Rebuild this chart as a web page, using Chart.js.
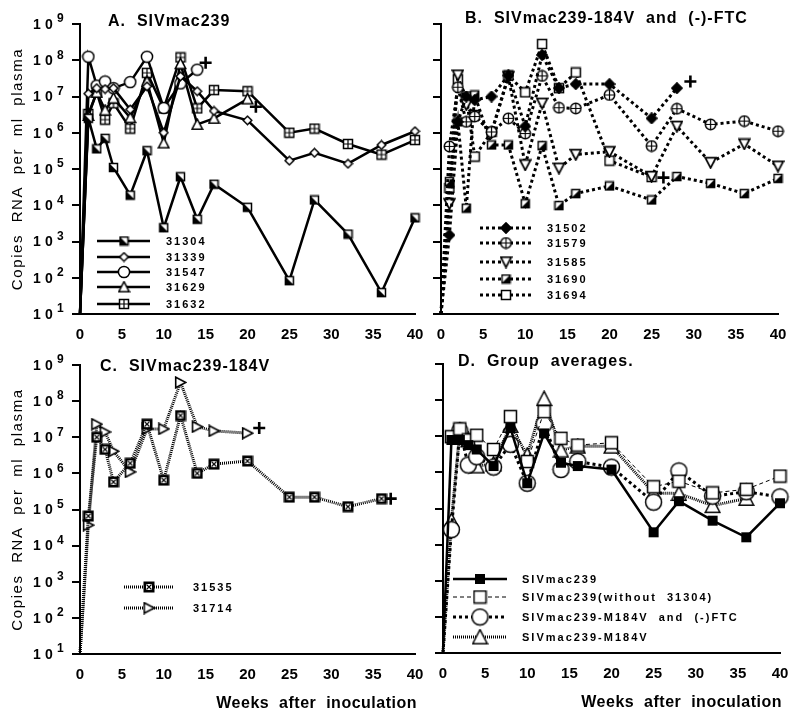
<!DOCTYPE html>
<html><head><meta charset="utf-8">
<script src="https://cdn.jsdelivr.net/npm/chart.js@4.4.0/dist/chart.umd.min.js"></script>
<style>
html,body{margin:0;padding:0;background:#fff;}
#wrap{position:relative;width:800px;height:720px;background:#fff;}
canvas{position:absolute;left:0;top:0;width:800px;height:720px;}
</style></head><body>
<div id="wrap">
<canvas id="cA" width="800" height="720"></canvas>
<canvas id="cB" width="800" height="720"></canvas>
<canvas id="cC" width="800" height="720"></canvas>
<canvas id="cD" width="800" height="720"></canvas>
</div>
<script>
// ---------------- DATA ----------------
const xTicks = [0,5,10,15,20,25,30,35,40];
const yTickExps = [1,2,3,4,5,6,7,8,9];

const weeks    = [0,1,2,3,4,6,8,10,12,14,16,20,25,28,32,36,40];
const weeksTo14 = [0,1,2,3,4,6,8,10,12,14];
const weeksTo20 = [0,1,2,3,4,6,8,10,12,14,16,20];
const weeksTo25 = [0,1,2,3,4,6,8,10,12,14,16,20,25];
const weeksTo28 = [0,1,2,3,4,6,8,10,12,14,16,20,25,28];
const weeksTo36 = [0,1,2,3,4,6,8,10,12,14,16,20,25,28,32,36];

// Panel A: SIVmac239
const labelsA = ['31304','31339','31547','31629','31632'];
const a31304 = [10,2.5e6,3.6e5,7e5,1.1e5,1.9e4,3.2e5,2.4e3,6.1e4,4.1e3,3.8e4,8.8e3,83,1.4e4,1.6e3,39,4.5e3];
const a31339 = [10,1.2e7,1.7e7,1.6e7,1.7e7,4.4e6,1.9e7,1e6,3.6e7,1.4e7,4e6,2.2e6,1.7e5,2.8e5,1.4e5,4.6e5,1.1e6];
const a31547 = [10,1.25e8,2e7,2.6e7,1.7e7,2.5e7,1.25e8,4.8e6,2.3e7,5.5e7];
const a31629 = [10,3e6,1.3e7,4.2e6,9e6,2.6e6,2.6e7,5.2e5,8e7,1.7e6,2.5e6,8.5e6];
const a31632 = [10,3.3e6,1.3e7,2.3e6,6.5e6,1.3e6,4.5e7,4.7e6,1.2e8,4.7e6,1.5e7,1.4e7,1e6,1.3e6,4.9e5,2.5e5,6.3e5];
const deathAx = [15,21];
const deathAy = [8.5e7,5.2e6];

// Panel B: SIVmac239-184V and (-)-FTC
const labelsB = ['31502','31579','31585','31690','31694'];
const b31502 = [10,1.5e3,2e6,1e7,8e6,1e7,3.8e7,1.5e6,1.4e8,1.7e7,2.2e7,2.2e7,2.5e6,1.7e7];
const b31579 = [10,4.2e5,1.8e7,2e6,2.8e6,1.05e6,2.5e6,9.5e5,3.7e7,4.9e6,4.7e6,1.1e7,4.3e5,4.6e6,1.7e6,2.1e6,1.1e6];
const b31585 = [10,1.1e4,3.9e7,5.9e6,3e6,1e6,3.5e7,1.3e5,6.5e6,1.05e5,2.5e5,3e5,6.2e4,1.5e6,1.5e5,4.9e5,1.2e5];
const b31690 = [10,4.5e4,2e6,8.3e3,1.1e7,4.6e5,4.6e5,1.1e4,4.4e5,9.8e3,2.1e4,3.4e4,1.4e4,6.2e4,4e4,2.1e4,5.5e4];
const b31694 = [10,3e4,3e7,1e7,2.2e5,1.05e6,3.8e7,1.3e7,2.8e8,1.7e7,4.6e7,1.7e5,6e4];
const deathBx = [29.6,26.4];
const deathBy = [2.6e7,5.8e4];

// Panel C: SIVmac239-184V
const labelsC = ['31535','31714'];
const c31535 = [10,6.6e4,1e7,4.6e6,5.8e5,1.9e6,2.3e7,6.5e5,4e7,1e6,1.8e6,2.2e6,2.2e5,2.2e5,1.2e5,2e5];
const c31714 = [10,3.7e4,2.3e7,1.4e7,4.1e6,1.1e6,1.7e7,1.7e7,3.3e8,1.95e7,1.5e7,1.3e7];
const deathCx = [21.4,37.1];
const deathCy = [1.8e7,2e5];

// Panel D: Group averages
const labelsD = ['SIVmac239','SIVmac239(without  31304)','SIVmac239-M184V  and  (-)FTC','SIVmac239-M184V'];
const dMac    = [10,7.9e6,7.9e6,5.7e6,4.3e6,1.5e6,1.7e7,5e5,1.2e7,1.85e6,1.5e6,1.2e6,2.2e4,1.6e5,4.6e4,1.6e4,1.4e5];
const dMacW   = [10,9.7e6,1.6e7,7.9e6,1.07e7,4.3e6,3.5e7,2e6,4.8e7,8.8e6,5.7e6,6.6e6,4e5,5.7e5,2.7e5,3.4e5,7.9e5];
const dFTC    = [10,2.6e4,1.4e7,1.6e6,2.7e6,1.4e6,6e6,5e5,2.2e7,1.2e6,2e6,1.4e6,1.5e5,1.1e6,2.2e5,2.9e5,2.1e5];
const dM184V  = [10,4.6e4,1.4e7,7.9e6,1.5e6,1.7e6,2e7,3e6,1.1e8,4.1e6,5.3e6,5.3e6,2.7e5,2.6e5,1.2e5,1.9e5];

const titleA = 'A.  SIVmac239';
const titleB = 'B.  SIVmac239-184V  and  (-)-FTC';
const titleC = 'C.  SIVmac239-184V';
const titleD = 'D.  Group  averages.';
const yTitle = 'Copies  RNA  per  ml  plasma';
const xTitle = 'Weeks  after  inoculation';

// ---------------- MARKERS ----------------
function makeMarker(size, fn){
  const c=document.createElement('canvas'); c.width=size; c.height=size;
  const g=c.getContext('2d'); g.lineWidth=1.5; g.strokeStyle='#000'; g.fillStyle='#fff';
  fn(g,size); return c;
}
const MK = {
  halfLL: makeMarker(11,(g)=>{ g.fillRect(1,1,9,9); g.beginPath(); g.moveTo(1,1); g.lineTo(1,10); g.lineTo(10,10); g.closePath(); g.fillStyle='#000'; g.fill(); g.strokeRect(1.5,1.5,8,8); }),
  halfLR: makeMarker(11,(g)=>{ g.fillRect(1,1,9,9); g.beginPath(); g.moveTo(10,1); g.lineTo(10,10); g.lineTo(1,10); g.closePath(); g.fillStyle='#000'; g.fill(); g.strokeRect(1.5,1.5,8,8); }),
  diamond: makeMarker(11,(g)=>{ g.beginPath(); g.moveTo(5.5,1.2); g.lineTo(9.8,5.5); g.lineTo(5.5,9.8); g.lineTo(1.2,5.5); g.closePath(); g.fill(); g.stroke(); }),
  diamondF: makeMarker(12,(g)=>{ g.beginPath(); g.moveTo(6,0.8); g.lineTo(11.2,6); g.lineTo(6,11.2); g.lineTo(0.8,6); g.closePath(); g.fillStyle='#000'; g.fill(); g.lineJoin='round'; g.stroke(); }),
  circle: makeMarker(14,(g)=>{ g.beginPath(); g.arc(7,7,5.6,0,Math.PI*2); g.fill(); g.stroke(); }),
  circlePlus: makeMarker(13,(g)=>{ g.beginPath(); g.arc(6.5,6.5,5.2,0,Math.PI*2); g.fill(); g.stroke(); g.beginPath(); g.moveTo(6.5,1.3); g.lineTo(6.5,11.7); g.moveTo(1.3,6.5); g.lineTo(11.7,6.5); g.lineWidth=1.2; g.stroke(); }),
  tri: makeMarker(13,(g)=>{ g.beginPath(); g.moveTo(6.5,1.2); g.lineTo(11.8,11.3); g.lineTo(1.2,11.3); g.closePath(); g.fill(); g.stroke(); }),
  triDown: makeMarker(13,(g)=>{ g.beginPath(); g.moveTo(1.2,1.7); g.lineTo(11.8,1.7); g.lineTo(6.5,11.8); g.closePath(); g.fill(); g.lineWidth=1.8; g.stroke(); }),
  triRight: makeMarker(13,(g)=>{ g.beginPath(); g.moveTo(1.7,1.2); g.lineTo(11.8,6.5); g.lineTo(1.7,11.8); g.closePath(); g.fill(); g.lineWidth=1.6; g.stroke(); }),
  sqPlus: makeMarker(12,(g)=>{ g.fillRect(1,1,10,10); g.strokeRect(1.5,1.5,9,9); g.beginPath(); g.moveTo(6,1.5); g.lineTo(6,10.5); g.moveTo(1.5,6); g.lineTo(10.5,6); g.lineWidth=1.2; g.stroke(); }),
  sqOpen: makeMarker(12,(g)=>{ g.fillRect(1,1,10,10); g.strokeRect(1.5,1.5,9,9); }),
  sqX: makeMarker(12,(g)=>{ g.fillStyle='#000'; g.fillRect(0.5,0.5,11,11); g.fillStyle='#fff'; g.fillRect(3,3,6,6); g.beginPath(); g.moveTo(3.5,3.5); g.lineTo(8.5,8.5); g.moveTo(8.5,3.5); g.lineTo(3.5,8.5); g.lineWidth=1.1; g.stroke(); }),
  sqFilled: makeMarker(12,(g)=>{ g.fillStyle='#000'; g.fillRect(1,1,10,10); }),
  sqBig: makeMarker(15,(g)=>{ g.fillRect(1,1,13,13); g.strokeRect(1.5,1.5,12,12); }),
  circleBig: makeMarker(19,(g)=>{ g.beginPath(); g.arc(9.5,9.5,8,0,Math.PI*2); g.fill(); g.stroke(); }),
  triBig: makeMarker(17,(g)=>{ g.beginPath(); g.moveTo(8.5,1.2); g.lineTo(15.8,15.2); g.lineTo(1.2,15.2); g.closePath(); g.fill(); g.stroke(); })
};

// ---------------- HELPERS ----------------
const FF = '"Liberation Sans", Arial, Helvetica, sans-serif';
function pts(xs, ys){ return ys.map((v,i)=>({x:xs[i], y:v})); }
function series(label, xs, ys, marker, dash, width){
  return { label, data: pts(xs,ys), inLegend:true,
    borderColor:'#000', borderWidth:width, borderDash:dash, borderCapStyle:'butt', borderJoinStyle:'miter',
    fill:false, tension:0, clip:false,
    pointStyle: marker, pointRadius: (c)=> (c.raw && c.raw.x===0) ? 0 : 5 };
}
function deaths(xs, ys){
  return { label:'death', data: pts(xs,ys), showLine:false, clip:false, inLegend:false,
    pointStyle:'cross', pointRadius:6, pointBorderWidth:2.6, pointBorderColor:'#000', borderColor:'#000' };
}

function spacedText(ctx, t, x, y, font, ls, align){
  ctx.font = font; ctx.letterSpacing = ls + 'px';
  ctx.textAlign = align || 'left';
  ctx.fillText(t, x, y);
  ctx.letterSpacing = '0px';
}

const textPlugin = {
  id:'panelText',
  afterDraw(chart, args, o){
    const ctx = chart.ctx; const ys = chart.scales.y; const xs = chart.scales.x;
    ctx.save(); ctx.fillStyle='#000'; ctx.strokeStyle='#000'; ctx.textBaseline='middle';
    spacedText(ctx, o.title, o.titleX, o.titleY, 'bold 16px '+FF, 1, 'left');
    if (o.yLabels){
      for (const e of yTickExps){
        const y = ys.getPixelForValue(Math.pow(10,e));
        ctx.font = 'bold 14px '+FF; ctx.textAlign='center';
        ctx.fillText('1', ys.right-43, y+1);
        ctx.fillText('0', ys.right-31, y+1);
        ctx.font = 'bold 12px '+FF; ctx.textAlign='left';
        ctx.fillText(String(e), ys.right-23, y-5);
      }
      ctx.save();
      ctx.translate(18, (ys.top+ys.bottom)/2);
      ctx.rotate(-Math.PI/2);
      spacedText(ctx, yTitle, 0, 0, '15px '+FF, 1.6, 'center');
      ctx.restore();
    }
    if (o.xTitle){
      spacedText(ctx, xTitle, xs.right+2, xs.bottom+10, 'bold 16px '+FF, 0.5, 'right');
    }
    const L = o.legend; let k = 0;
    chart.data.datasets.forEach(ds=>{
      if(!ds.inLegend) return;
      const y = L.rows[k++];
      ctx.save();
      ctx.lineWidth = ds.borderWidth; ctx.setLineDash(ds.borderDash||[]); ctx.lineCap='butt';
      ctx.beginPath(); ctx.moveTo(L.x1, y); ctx.lineTo(L.x2, y); ctx.stroke();
      ctx.restore();
      const m = ds.pointStyle;
      ctx.drawImage(m, L.xm - m.width/2, y - m.height/2);
      ctx.textBaseline='middle';
      spacedText(ctx, ds.label, L.xt, y+1, 'bold 11px '+FF, 2, 'left');
    });
    ctx.restore();
  }
};

function panel(id, cfg){
  return new Chart(document.getElementById(id), {
    type:'line',
    data:{ datasets: cfg.datasets },
    options:{
      responsive:false, animation:false, events:[], devicePixelRatio:1,
      layout:{ padding: cfg.padding },
      plugins:{ legend:{display:false}, tooltip:{enabled:false}, panelText: cfg.text },
      scales:{
        x:{ type:'linear', min:0, max:40,
            afterBuildTicks:(s)=>{ s.ticks = xTicks.map(v=>({value:v})); },
            ticks:{ color:'#000', font:{family:FF, size:15, weight:'bold'}, padding:4, maxRotation:0, autoSkip:false },
            grid:{ display:false },
            border:{ display:true, color:'#000', width:2 },
            afterFit:(s)=>{ s.height = 40; } },
        y:{ type:'logarithmic', min:10, max:1e9,
            afterBuildTicks:(s)=>{ s.ticks = yTickExps.map(e=>({value:Math.pow(10,e)})); },
            ticks:{ callback:()=>'', autoSkip:false },
            grid:{ display:true, drawOnChartArea:false, drawTicks:true, tickLength:8, color:'#000', lineWidth:2 },
            border:{ display:true, color:'#000', width:2 },
            afterFit:(s)=>{ s.width = cfg.yWidth; } }
      }
    },
    plugins:[textPlugin]
  });
}

const solidA = [], dotB = [3,3], fineC = [1,1];

panel('cA', {
  padding:{left:0, top:24, right:385, bottom:366}, yWidth:80,
  datasets:[
    series(labelsA[0], weeks, a31304, MK.halfLL, solidA, 2.5),
    series(labelsA[1], weeks, a31339, MK.diamond, solidA, 2.5),
    series(labelsA[2], weeksTo14, a31547, MK.circle, solidA, 2.5),
    series(labelsA[3], weeksTo20, a31629, MK.tri, solidA, 2.5),
    series(labelsA[4], weeks, a31632, MK.sqPlus, solidA, 2.5),
    deaths(deathAx, deathAy)
  ],
  text:{ title:titleA, titleX:108, titleY:22, yLabels:true, xTitle:false,
         legend:{x1:97, x2:150, xm:124, xt:166, rows:[241,257,272,287,304]} }
});

panel('cB', {
  padding:{left:420, top:24, right:22, bottom:366}, yWidth:21,
  datasets:[
    series(labelsB[0], weeksTo28, b31502, MK.diamondF, dotB, 3),
    series(labelsB[1], weeks, b31579, MK.circlePlus, dotB, 3),
    series(labelsB[2], weeks, b31585, MK.triDown, dotB, 3),
    series(labelsB[3], weeks, b31690, MK.halfLR, dotB, 3),
    series(labelsB[4], weeksTo25, b31694, MK.sqOpen, dotB, 3),
    deaths(deathBx, deathBy)
  ],
  text:{ title:titleB, titleX:465, titleY:19, yLabels:false, xTitle:false,
         legend:{x1:480, x2:532, xm:506, xt:547, rows:[228,243,262,279,295]} }
});

panel('cC', {
  padding:{left:0, top:365, right:385, bottom:26}, yWidth:80,
  datasets:[
    series(labelsC[0], weeksTo36, c31535, MK.sqX, fineC, 3),
    series(labelsC[1], weeksTo20, c31714, MK.triRight, fineC, 3),
    deaths(deathCx, deathCy)
  ],
  text:{ title:titleC, titleX:100, titleY:367, yLabels:true, xTitle:true,
         legend:{x1:124, x2:173, xm:149, xt:193, rows:[587,608]} }
});

panel('cD', {
  padding:{left:420, top:364, right:20, bottom:27}, yWidth:23,
  datasets:[
    series(labelsD[0], weeks, dMac, MK.sqFilled, [], 2.5),
    series(labelsD[1], weeks, dMacW, MK.sqBig, [4,3], 1),
    series(labelsD[2], weeks, dFTC, MK.circleBig, [3,3], 3),
    series(labelsD[3], weeksTo36, dM184V, MK.triBig, [1,1], 3)
  ],
  text:{ title:titleD, titleX:458, titleY:362, yLabels:false, xTitle:true,
         legend:{x1:453, x2:507, xm:480, xt:522, rows:[579,597,617,637]} }
});
</script>
</body></html>
